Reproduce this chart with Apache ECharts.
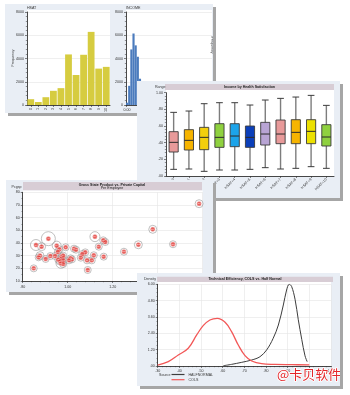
<!DOCTYPE html>
<html>
<head>
<meta charset="utf-8">
<script src="https://cdn.jsdelivr.net/npm/echarts/dist/echarts.min.js"></script>
<style>
  html, body { margin: 0; padding: 0; background: #ffffff; width: 350px; height: 395px; overflow: hidden; }
  body { position: relative; }
  .panel { position: absolute; background: #e9eef5; box-shadow: 3px 3px 0 #a6a6a6; }
</style>
</head>
<body>
<div id="histPanel" class="panel" style="left:5px;top:4px;width:208px;height:109px;z-index:1"></div>
<div id="boxPanel" class="panel" style="left:137px;top:81px;width:203px;height:117px;z-index:2"></div>
<div id="scatterPanel" class="panel" style="left:6px;top:180px;width:207px;height:112px;z-index:3"></div>
<div id="densityPanel" class="panel" style="left:137px;top:273px;width:203px;height:113px;z-index:4"></div>
<script>
// ---------- data ----------
// Health satisfaction histogram
const hsatLevels = ['0','1','2','3','4','5','6','7','8','9','10'];
const hsatCounts = [500, 260, 670, 1220, 1450, 4350, 2580, 4320, 6290, 3130, 3280];

// Income histogram
const incomeBins = ['0.00','0.08','0.15','0.23','0.30','0.38','0.45','0.53','0.60','0.68',
  '0.75','0.83','0.90','0.98','1.05','1.13','1.20','1.28','1.35','1.43',
  '1.50','1.58','1.65','1.73','1.80','1.88','1.95','2.03','2.10','2.18',
  '2.25','2.33','2.40','2.48','2.55','2.63','2.70','2.78','2.85','2.93'];
const incomeCounts = [200, 1650, 4780, 6150, 5130, 4150, 2260, 1450, 980, 650,
  430, 300, 210, 150, 110, 80, 60, 45, 35, 25,
  20, 15, 12, 10, 8, 6, 5, 4, 3, 3,
  2, 2, 1, 1, 1, 1, 0, 0, 0, 0];
const freqTicks = [0, 2000, 4000, 6000, 8000];

// Income by health satisfaction (box statistics)
const boxGroups = ['HSAT=0','HSAT=1','HSAT=2','HSAT=3','HSAT=4','HSAT=5','HSAT=6','HSAT=7','HSAT=8','HSAT=9','HSAT=10'];
const whiskerLow  = [0.080, 0.084, 0.056, 0.072, 0.072, 0.080, 0.100, 0.084, 0.092, 0.112, 0.092];
const quartile1   = [0.288, 0.312, 0.316, 0.344, 0.352, 0.344, 0.372, 0.388, 0.388, 0.388, 0.360];
const medians     = [0.404, 0.428, 0.464, 0.464, 0.480, 0.464, 0.504, 0.504, 0.524, 0.536, 0.468];
const quartile3   = [0.532, 0.556, 0.584, 0.628, 0.628, 0.600, 0.644, 0.672, 0.676, 0.676, 0.616];
const whiskerHigh = [0.764, 0.780, 0.868, 0.880, 0.880, 0.852, 0.912, 0.932, 0.948, 0.968, 0.848];
const boxColors = ['#e89a9a','#f6b400','#f3cf0c','#8fd13f','#1ca4ea','#0b3fb9','#b8a4d4','#e89a9a','#f6b400','#ece000','#8fd13f'];
const rangeTicks = [0, 0.2, 0.4, 0.6, 0.8, 1.0];

// Gross state product vs. private capital, per employee
const states = ['CT','NV','NY','AK','WY','LA','DE','NJ','TX','OK','CA','IL','MA','WA','MD','CO','MN','VA','NM','HI','UT',
  'NH','KS','NE','MI','OH','PA','GA','IA','AZ','OR','FL','IN','WI','MO','NC','RI','VT','TN','KY','MS','ME'];
const capitalPerEmp = [1.584,1.378,1.121,0.914,1.158,1.167,1.314,1.468,0.859,0.884,0.951,0.991,1.138,1.028,1.037,0.963,0.956,1.078,1.250,1.065,1.116,
  1.160,0.877,0.871,0.923,0.944,0.973,0.980,0.902,1.013,1.019,1.058,0.958,0.966,0.980,1.006,1.086,1.107,0.970,0.980,0.849,1.089];
const gspPerEmp = [71.0,50.8,45.0,43.4,42.1,40.8,38.6,39.0,38.4,37.1,37.9,36.6,37.1,35.5,34.7,35.0,32.9,32.6,33.1,31.3,30.3,
  29.2,30.0,28.7,29.7,29.7,29.2,30.0,27.4,27.9,27.1,28.4,26.8,25.8,26.3,26.3,26.3,26.3,24.0,23.4,20.0,18.7];
const bubbleSize = [8,8,10,14,7,7,8,7,11,8,9,7,7,7,7,7,7,7,7,7,7,
  7,8,7,7,7,7,7,7,7,7,7,7,8,7,7,7,7,10,7,7,7];

// Technical efficiency densities
const colsCurve = [[0.300,0.07],[0.349,0.32],[0.395,0.81],[0.441,1.30],[0.480,2.28],[0.510,2.96],[0.541,3.38],
  [0.575,3.50],[0.611,3.21],[0.641,2.52],[0.672,1.54],[0.703,0.76],[0.734,0.37],[0.780,0.17],[0.841,0.12],
  [0.920,0.10],[1.000,0.08]];
const halfNormalCurve = [[0.603,0.02],[0.641,0.12],[0.688,0.27],[0.734,0.44],[0.772,0.68],[0.803,1.18],[0.833,2.03],
  [0.857,3.01],[0.880,4.48],[0.895,5.58],[0.907,6.00],[0.918,5.85],[0.934,4.90],[0.949,3.40],[0.965,1.95],
  [0.980,0.75],[0.990,0.32]];
const effTicks = [0.3, 0.4, 0.5, 0.6, 0.7, 0.8, 0.9, 1.0, 1.1];
const densityTicks = [0, 1.2, 2.4, 3.6, 4.8, 6.0];

// ---------- shared styling ----------
const FONT = 'Liberation Sans, Arial, sans-serif';
const TINY = 3.6;
const INK = '#333333';
const BAND = '#d8cdd5';
const GRIDLINE = '#e4e4e4';

function valueAxis(extra) {
  return Object.assign({
    type: 'value',
    axisLine: { show: true, lineStyle: { color: INK, width: 0.9 } },
    axisTick: { show: true, length: 2, lineStyle: { color: INK, width: 0.6 } },
    axisLabel: { fontSize: TINY, color: INK, margin: 3, fontFamily: FONT },
    splitLine: { show: true, lineStyle: { color: GRIDLINE, width: 0.6 } }
  }, extra);
}
function smallText(x, y, text, opts) {
  return Object.assign({
    type: 'text', x: x, y: y, z: 5,
    style: Object.assign({ text: text, fontSize: TINY, fill: INK, fontFamily: FONT, align: 'left', verticalAlign: 'middle' }, opts && opts.style)
  }, opts && opts.el);
}
function rect(x, y, w, h, fill) {
  return { type: 'rect', z: -1, shape: { x: x, y: y, width: w, height: h }, style: { fill: fill } };
}
function decimalLabel(v) {
  return v.toFixed(2).replace(/^0\./, '.');
}
function plainInt(v) {
  return String(Math.round(v));
}

// ---------- histograms ----------
const histChart = echarts.init(document.getElementById('histPanel'), null, { renderer: 'canvas' });
histChart.setOption({
  animation: false,
  textStyle: { fontFamily: FONT },
  graphic: [
    rect(22, 6, 83, 95, '#ffffff'),
    rect(121, 6, 86, 95, '#ffffff'),
    smallText(22, 3.5, 'HSAT'),
    smallText(121, 3.5, 'INCOME'),
    smallText(8, 54, 'Frequency', { el: { rotation: Math.PI / 2 }, style: { align: 'center' } }),
    smallText(206.5, 41, 'Frequency', { el: { rotation: -Math.PI / 2 }, style: { align: 'center' } })
  ],
  grid: [
    { left: 22, top: 8, width: 83, height: 93, outerBoundsMode: 'none' },
    { left: 121, top: 8, width: 86, height: 93, outerBoundsMode: 'none' }
  ],
  xAxis: [
    { type: 'category', gridIndex: 0, data: hsatLevels,
      axisLine: { lineStyle: { color: INK, width: 0.9 } },
      axisTick: { show: true, length: 2, alignWithLabel: true, lineStyle: { color: INK, width: 0.6 } },
      axisLabel: { fontSize: TINY, color: INK, rotate: 90, margin: 3 } },
    { type: 'category', gridIndex: 1, data: incomeBins,
      axisLine: { lineStyle: { color: INK, width: 0.9 } },
      axisTick: { show: true, length: 2, interval: 9, lineStyle: { color: INK, width: 0.6 } },
      axisLabel: { fontSize: TINY, color: INK, interval: 9, margin: 3 } }
  ],
  yAxis: [
    valueAxis({ gridIndex: 0, min: freqTicks[0], max: freqTicks[freqTicks.length - 1], interval: 2000,
      axisLabel: { fontSize: TINY, color: INK, margin: 3, formatter: plainInt },
      minorTick: { show: true, splitNumber: 5, length: 1.2, lineStyle: { color: INK, width: 0.5 } } }),
    valueAxis({ gridIndex: 1, min: freqTicks[0], max: freqTicks[freqTicks.length - 1], interval: 2000,
      axisLabel: { fontSize: TINY, color: INK, margin: 3, formatter: plainInt },
      minorTick: { show: true, splitNumber: 5, length: 1.2, lineStyle: { color: INK, width: 0.5 } } })
  ],
  series: [
    { type: 'bar', xAxisIndex: 0, yAxisIndex: 0, data: hsatCounts, barCategoryGap: '10%',
      itemStyle: { color: '#d6cc40' } },
    { type: 'bar', xAxisIndex: 1, yAxisIndex: 1, data: incomeCounts, barCategoryGap: '0%',
      itemStyle: { color: '#4b7bbd' } }
  ]
});

// ---------- box plot ----------
const boxChart = echarts.init(document.getElementById('boxPanel'), null, { renderer: 'canvas' });
const boxRows = boxGroups.map((g, i) => [i, whiskerLow[i], quartile1[i], medians[i], quartile3[i], whiskerHigh[i]]);
boxChart.setOption({
  animation: false,
  textStyle: { fontFamily: FONT },
  graphic: [
    rect(28, 3, 169, 6, BAND),
    rect(29, 9, 168, 86, '#ffffff'),
    smallText(112.5, 6, 'Income by Health Satisfaction', { style: { align: 'center', fontWeight: 'bold', fill: '#222' } }),
    smallText(18, 6, 'Range')
  ],
  grid: { left: 29, top: 11.7, width: 168, height: 83.3, outerBoundsMode: 'none' },
  xAxis: { type: 'category', data: boxGroups,
    axisLine: { lineStyle: { color: INK, width: 0.9 } },
    axisTick: { show: true, length: 2, alignWithLabel: true, lineStyle: { color: INK, width: 0.6 } },
    axisLabel: { fontSize: TINY, color: INK, rotate: 45, margin: 3, interval: 0 } },
  yAxis: valueAxis({ min: rangeTicks[0], max: rangeTicks[rangeTicks.length - 1], interval: 0.2,
    splitLine: { show: false },
    minorTick: { show: true, splitNumber: 5, length: 1.2, lineStyle: { color: INK, width: 0.5 } },
    axisLabel: { fontSize: TINY, color: INK, margin: 3, formatter: decimalLabel } }),
  series: [{
    type: 'custom',
    data: boxRows,
    encode: { x: 0, y: [1, 2, 3, 4, 5] },
    renderItem: function (params, api) {
      const idx = api.value(0);
      const lo = api.coord([idx, api.value(1)]);
      const q1 = api.coord([idx, api.value(2)]);
      const md = api.coord([idx, api.value(3)]);
      const q3 = api.coord([idx, api.value(4)]);
      const hi = api.coord([idx, api.value(5)]);
      const band = api.size([1, 0])[0];
      const bw = band * 0.6, cw = band * 0.44, x = lo[0];
      return { type: 'group', children: [
        { type: 'line', shape: { x1: x, y1: hi[1], x2: x, y2: lo[1] }, style: { stroke: '#7d7d7d', lineWidth: 1.4 } },
        { type: 'line', shape: { x1: x - cw / 2, y1: hi[1], x2: x + cw / 2, y2: hi[1] }, style: { stroke: '#3c3c3c', lineWidth: 1 } },
        { type: 'line', shape: { x1: x - cw / 2, y1: lo[1], x2: x + cw / 2, y2: lo[1] }, style: { stroke: '#3c3c3c', lineWidth: 1 } },
        { type: 'rect', shape: { x: x - bw / 2, y: q3[1], width: bw, height: q1[1] - q3[1] },
          style: { fill: boxColors[params.dataIndex], stroke: '#3a3a3a', lineWidth: 0.9 } },
        { type: 'line', shape: { x1: x - bw / 2, y1: md[1], x2: x + bw / 2, y2: md[1] }, style: { stroke: '#2a2a2a', lineWidth: 1 } }
      ] };
    }
  }]
});

// ---------- scatter ----------
const scatterChart = echarts.init(document.getElementById('scatterPanel'), null, { renderer: 'canvas' });
const statePoints = states.map((s, i) => ({ name: s, value: [capitalPerEmp[i], gspPerEmp[i]] }));
const bubblePoints = states.map((s, i) => ({ name: s, value: [capitalPerEmp[i], gspPerEmp[i]], symbolSize: bubbleSize[i] }));
scatterChart.setOption({
  animation: false,
  textStyle: { fontFamily: FONT },
  graphic: [
    rect(17, 2, 179, 8.5, BAND),
    rect(16.7, 10.5, 180, 90.5, '#ffffff'),
    smallText(106, 4.6, 'Gross State Product vs. Private Capital', { style: { align: 'center', fontWeight: 'bold', fill: '#222' } }),
    smallText(106, 8.4, 'Per Employee', { style: { align: 'center', fill: '#222' } }),
    smallText(5.5, 7.3, 'Pcgsp')
  ],
  grid: { left: 16.7, top: 12.3, width: 180, height: 88.7, outerBoundsMode: 'none' },
  xAxis: valueAxis({ min: 0.8, max: 1.6, interval: 0.2,
    minorTick: { show: true, splitNumber: 5, length: 1.2, lineStyle: { color: INK, width: 0.5 } },
    axisLabel: { fontSize: TINY, color: INK, margin: 4, formatter: decimalLabel } }),
  yAxis: valueAxis({ min: 10, max: 80, interval: 10,
    minorTick: { show: true, splitNumber: 2, length: 1.2, lineStyle: { color: INK, width: 0.5 } } }),
  series: [
    { type: 'scatter', data: bubblePoints, symbol: 'circle', z: 2,
      itemStyle: { color: 'rgba(255,255,255,0)', borderColor: '#9c9c9c', borderWidth: 0.8 } },
    { type: 'scatter', data: statePoints, symbol: 'circle', symbolSize: 4.5, z: 3,
      itemStyle: { color: '#e23a35', borderColor: '#f7c4c2', borderWidth: 0.5 },
      label: { show: true, position: 'inside', fontSize: 2.4, color: '#ffffff', formatter: '{b}' } }
  ]
});

// ---------- densities ----------
const densityChart = echarts.init(document.getElementById('densityPanel'), null, { renderer: 'canvas' });
densityChart.setOption({
  animation: false,
  textStyle: { fontFamily: FONT },
  graphic: [
    rect(20, 3.7, 176, 5.3, BAND),
    rect(20.7, 9, 173.3, 84, '#ffffff'),
    smallText(108, 6.4, 'Technical Efficiency, COLS vs. Half Normal', { style: { align: 'center', fontWeight: 'bold', fill: '#222' } }),
    smallText(7, 6, 'Density'),
    smallText(22, 101.6, 'Source'),
    { type: 'text', x: 140, y: 101, z: 10,
      style: { text: '@卡贝软件', fontSize: 13, fill: '#e3262b', stroke: '#ffffff', lineWidth: 1.5,
        fontFamily: 'Noto Sans CJK SC', align: 'left', verticalAlign: 'middle' } }
  ],
  legend: {
    orient: 'vertical', left: 34.5, top: 99.5, itemWidth: 13, itemHeight: 1.2, itemGap: 1.2,
    icon: 'rect', textStyle: { fontSize: TINY, color: INK, padding: [0, 0, 0, -1] },
    padding: 0,
    data: ['HALFNORMAL', 'COLS']
  },
  grid: { left: 20.7, top: 11.3, width: 173.3, height: 81.7, outerBoundsMode: 'none' },
  xAxis: valueAxis({ min: effTicks[0], max: effTicks[effTicks.length - 1], interval: 0.1,
    minorTick: { show: true, splitNumber: 5, length: 1.2, lineStyle: { color: INK, width: 0.5 } },
    axisLabel: { fontSize: TINY, color: INK, margin: 3, formatter: decimalLabel } }),
  yAxis: valueAxis({ min: densityTicks[0], max: densityTicks[densityTicks.length - 1], interval: 1.2,
    minorTick: { show: true, splitNumber: 4, length: 1.2, lineStyle: { color: INK, width: 0.5 } },
    axisLabel: { fontSize: TINY, color: INK, margin: 3, formatter: decimalLabel } }),
  series: [
    { name: 'HALFNORMAL', type: 'line', data: halfNormalCurve, smooth: 0.35, symbol: 'none',
      lineStyle: { color: '#3d3d3d', width: 1 }, itemStyle: { color: '#3d3d3d' } },
    { name: 'COLS', type: 'line', data: colsCurve, smooth: 0.4, symbol: 'none',
      lineStyle: { color: '#f25757', width: 1.3 }, itemStyle: { color: '#f25757' } }
  ]
});
</script>
</body>
</html>
